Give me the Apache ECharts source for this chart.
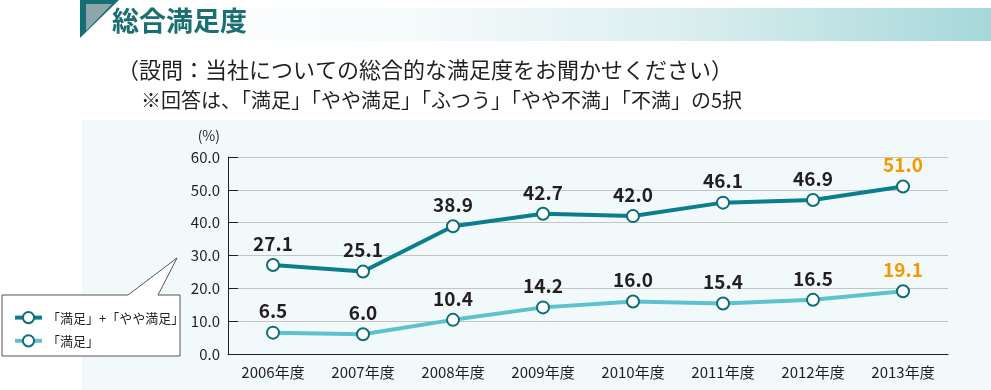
<!DOCTYPE html>
<html>
<head>
<meta charset="utf-8">
<script src="https://cdn.jsdelivr.net/npm/echarts@6/dist/echarts.min.js"></script>
<style>
html,body{margin:0;padding:0;background:#ffffff;}
#chart{width:991px;height:390px;}
</style>
</head>
<body>
<div id="chart"></div>
<script>
var titleText = '総合満足度';
var subText1 = '（設問：当社についての総合的な満足度をお聞かせください）';
var subText2 = '※回答は、「満足」「やや満足」「ふつう」「やや不満」「不満」の5択';
var categories = ['2006年度','2007年度','2008年度','2009年度','2010年度','2011年度','2012年度','2013年度'];
var seriesNames = ['「満足」+「やや満足」','「満足」'];
var totalValues = [27.1,25.1,38.9,42.7,42.0,46.1,46.9,51.0];
var satisfiedValues = [6.5,6.0,10.4,14.2,16.0,15.4,16.5,19.1];
var yTicks = [0,10,20,30,40,50,60];
var yUnit = '(%)';

var FONT = '"Noto Sans CJK JP", "Noto Sans", sans-serif';
var chart = echarts.init(document.getElementById('chart'));

function markData(vals){
  return vals.map(function(v,i){
    var d = {value:v};
    if(i === vals.length-1){ d.label = {color:'#f39800'}; }
    return d;
  });
}

var option = {
  animation:false,
  backgroundColor:'#ffffff',
  textStyle:{fontFamily:FONT},
  graphic:[
    {type:'rect', z:-10, shape:{x:82,y:120,width:909,height:270}, style:{fill:'#f2f9fb'}},
    {type:'rect', z:-10, shape:{x:118,y:8,width:873,height:33}, style:{fill:new echarts.graphic.LinearGradient(0,0,1,0,[
      {offset:0,color:'#ffffff'},{offset:0.35,color:'#f5fafb'},{offset:0.65,color:'#dbeeef'},{offset:1,color:'#a6d8da'}])}},
    {type:'polygon', shape:{points:[[80,0],[119,0],[80,38]]}, style:{fill:'#166d72'}},
    {type:'polygon', shape:{points:[[86,4],[112,4],[86,31]]}, style:{fill:'#8ea6ab'}},
    {type:'text', left:112, top:7, style:{text:titleText, fill:'#1b6e72', font:'bold 27px '+FONT}},
    {type:'text', left:117, top:59, style:{text:subText1, fill:'#231f20', font:'22px '+FONT}},
    {type:'text', left:141, top:90, style:{text:subText2, fill:'#231f20', font:'20px '+FONT}},
    {type:'polygon', z:5, shape:{points:[[2,295],[128,295],[177,258],[158,295],[180,295],[180,356],[2,356]]},
      style:{fill:'#ffffff', stroke:'#555555', lineWidth:1}}
  ],
  legend:{
    left:8, top:306, orient:'vertical', itemGap:10, itemWidth:27, itemHeight:14, z:10,
    lineStyle:{width:4},
    itemStyle:{borderWidth:2.5},
    textStyle:{fontSize:13, color:'#231f20', fontFamily:FONT},
    data:seriesNames
  },
  grid:{left:228, right:43, top:157, bottom:36},
  xAxis:{
    type:'category', data:categories, boundaryGap:true,
    axisLine:{lineStyle:{color:'#231f20', width:1}},
    axisTick:{show:false},
    axisLabel:{fontSize:15, color:'#231f20', margin:11, fontFamily:FONT}
  },
  yAxis:{
    type:'value', min:yTicks[0], max:yTicks[yTicks.length-1], interval:10,
    name:yUnit, nameLocation:'end', nameGap:14,
    nameTextStyle:{fontSize:14, color:'#231f20', align:'right', padding:[0,8,0,0], fontFamily:FONT},
    axisLine:{show:true, lineStyle:{color:'#231f20', width:1}},
    axisTick:{show:true, inside:true, length:10, lineStyle:{color:'#231f20'}},
    axisLabel:{fontSize:15, color:'#231f20', margin:8, fontFamily:FONT, formatter:function(v){return v.toFixed(1);}},
    splitLine:{lineStyle:{color:'#c4c4c4', width:1}}
  },
  series:[
    {
      name:seriesNames[0], type:'line', data:markData(totalValues),
      symbol:'emptyCircle', symbolSize:12,
      lineStyle:{color:'#0a7f8b', width:4},
      itemStyle:{color:'#0d6e77', borderWidth:2.5},
      label:{show:true, position:'top', distance:5, fontSize:19, fontWeight:'bold', color:'#231f20', fontFamily:FONT,
        formatter:function(p){return p.value.toFixed(1);}}
    },
    {
      name:seriesNames[1], type:'line', data:markData(satisfiedValues),
      symbol:'emptyCircle', symbolSize:12,
      lineStyle:{color:'#5cc3ce', width:4},
      itemStyle:{color:'#0d6e77', borderWidth:2.5},
      label:{show:true, position:'top', distance:5, fontSize:19, fontWeight:'bold', color:'#231f20', fontFamily:FONT,
        formatter:function(p){return p.value.toFixed(1);}}
    }
  ]
};
chart.setOption(option);
</script>
</body>
</html>
